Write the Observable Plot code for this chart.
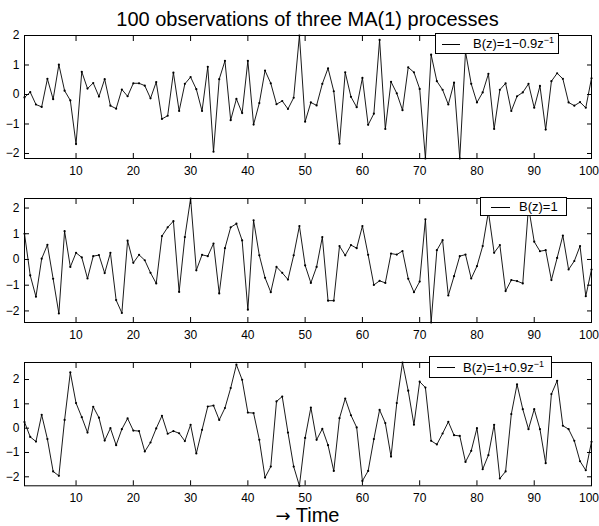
<!DOCTYPE html>
<html><head><meta charset="utf-8">
<script src="https://cdn.jsdelivr.net/npm/d3@7"></script>
<script src="https://cdn.jsdelivr.net/npm/@observablehq/plot@0.6"></script>
<style>
body{margin:0;background:#fff;}
#wrap{position:relative;width:599px;height:526px;overflow:hidden;font-family:"Liberation Sans",Arial,Helvetica,sans-serif;color:#000;background:#fff;}
.title{position:absolute;left:24px;width:567px;text-align:center;font-size:20px;line-height:20px;top:9px;white-space:nowrap;}
.xlab{position:absolute;left:24px;width:567px;text-align:center;font-size:20px;line-height:20px;top:505px;white-space:nowrap;}
.xlab .arr{font-family:"DejaVu Sans",sans-serif;font-size:18px;}
.panel{position:absolute;left:0;}
.legend{position:absolute;border:1px solid #000;background:#fff;box-sizing:border-box;font-size:13px;white-space:nowrap;}
.legend .ln{position:absolute;height:0;border-top:1px solid #000;}
.legend .tx{position:absolute;line-height:13px;}
.legend sup{font-size:9px;vertical-align:0;position:relative;top:-5px;}
</style></head>
<body>
<div id="wrap">
  <div class="title">100 observations of three MA(1) processes</div>
  <div class="xlab"><span class="arr">→</span> Time</div>
</div>
<script>
// time index
const time = d3.range(1, 101);
const xTicks = [10, 20, 30, 40, 50, 60, 70, 80, 90, 100];
const yTicks = [-2, -1, 0, 1, 2];
const legendLabels = ["B(z)=1−0.9z", "B(z)=1", "B(z)=1+0.9z"];
const legendSups = ["−1", "", "−1"];

// B(z) = 1 - 0.9 z^-1
const series1 = [
 -0.10, 0.08,-0.34,-0.42, 0.53,-0.16, 1.01, 0.13,-0.20,-1.68,
  0.77, 0.20, 0.39,-0.07, 0.52,-0.38,-0.48, 0.17,-0.06, 0.38,
  0.38, 0.30,-0.13, 0.42,-0.83,-0.72, 0.74,-0.56, 0.36, 0.59,
  0.18,-0.56, 0.94,-1.94, 0.52, 1.14,-0.87,-0.15,-0.63, 1.14,
 -1.02,-0.29, 0.81, 0.38,-0.33,-0.22,-0.49,-0.11, 2.00,-0.92,
 -0.27,-0.37, 0.36, 0.89, 0.11,-1.67, 0.75,-0.08,-0.43, 0.56,
 -1.03,-0.65, 1.85,-1.17, 0.43, 0.04,-0.53, 0.92, 0.75, 0.19,
 -2.17, 1.35, 0.45, 0.16,-0.34, 0.40,-2.17, 1.45, 0.36,-0.27,
  0.07, 0.70,-1.17, 0.16, 0.38,-0.56,-0.06, 0.07, 0.36,-0.45,
  0.29,-1.19, 0.45, 0.72, 0.53,-0.27,-0.38,-0.26,-0.45, 0.55
];
// B(z) = 1
const series2 = [
  1.00,-0.62,-1.45, 0.03, 0.57,-0.75,-2.10, 1.10,-0.29, 0.26,
  0.08,-0.74, 0.13, 0.17,-0.53, 0.26,-1.58,-2.08, 0.73,-0.13,
  0.18,-0.03,-0.52,-0.93, 0.91, 1.25, 1.49,-1.26, 0.87, 2.37,
 -0.42, 0.18, 0.13, 0.62,-1.32, 0.44, 1.25, 1.39, 0.74,-1.95,
  1.52, 0.16,-0.71,-1.27,-0.29,-0.52,-0.78, 0.16, 1.30,-0.23,
 -0.91,-0.29, 0.87,-1.60,-1.60, 0.52, 0.16, 0.56, 0.44, 1.30,
  0.18,-0.99,-0.83,-0.91, 0.23, 0.19, 0.33,-0.75,-1.27,-0.86,
  1.56,-2.45, 0.36, 0.75,-1.40,-0.65, 0.13, 0.19,-0.74,-0.26,
  0.52, 1.85, 0.26, 0.56,-1.23,-0.80,-0.84,-0.93, 2.05, 0.69,
  0.32, 0.36,-0.80, 0.06, 0.93,-0.39,-0.06, 0.52,-1.43,-0.39
];
// B(z) = 1 + 0.9 z^-1
const series3 = [
  0.25,-0.36,-0.55, 0.55,-0.45,-1.78,-1.96, 0.34, 2.29, 1.03,
  0.45,-0.18, 0.88, 0.43,-0.51, 0.00,-0.70,-0.04, 0.40,-0.10,
 -0.12,-0.96,-0.59,-0.01, 0.51,-0.23,-0.12,-0.21,-0.53, 0.14,
 -1.04,-0.07, 0.89, 0.93, 0.34, 0.83, 1.65, 2.61, 1.99, 0.64,
  0.62,-0.48,-2.03,-1.58, 1.10, 1.30,-0.18,-1.58,-2.37,-0.40,
  0.85,-0.48,-0.03,-0.70,-1.76, 0.41, 1.22, 0.53, 0.03,-2.17,
 -1.76,-0.45, 0.75, 0.21,-1.17, 1.03, 2.70, 1.54, 0.14, 1.91,
  1.67,-0.52,-0.67,-0.22, 0.26,-0.29,-0.32,-1.39,-0.93, 0.00,
 -1.69,-1.11, 0.14,-2.07,-1.78, 0.58, 1.80, 0.78,-0.04, 0.78,
 -0.04,-1.44, 1.40, 1.95, 0.10,-0.04,-0.52,-1.36,-1.73,-0.56
];

const wrap = document.getElementById("wrap");
const fmt = d => (d < 0 ? "−" + Math.abs(d) : String(d));
const lastTick = xTicks[xTicks.length - 1];
const innerTicks = xTicks.slice(0, -1);

const panels = [
  {values: series1, top: 25.3, frameH: 123,
   legend: {left: 435, top: 33, w: 124, h: 21, lnL: 6, lnW: 18, txL: 37}},
  {values: series2, top: 187.7, frameH: 124,
   legend: {left: 480, top: 197, w: 87, h: 19, lnL: 10, lnW: 19, txL: 38}},
  {values: series3, top: 351.7, frameH: 123.3,
   legend: {left: 429, top: 356, w: 123, h: 22, lnL: 7, lnW: 18, txL: 33}}
];

panels.forEach((p, i) => {
  const data = time.map((t, j) => ({t, v: p.values[j]}));
  const mt = 10, mb = 25;
  const chart = Plot.plot({
    width: 599,
    height: mt + p.frameH + mb,
    marginTop: mt,
    marginBottom: mb,
    marginLeft: 24,
    marginRight: 8,
    style: {fontFamily: '"Liberation Sans", Arial, Helvetica, sans-serif', fontSize: "12px", color: "#000", background: "transparent", overflow: "visible"},
    x: {domain: [1, 100], axis: null},
    y: {domain: d3.extent(p.values), axis: null},
    marks: [
      Plot.line(data, {x: "t", y: "v", stroke: "#000", strokeWidth: 0.9, strokeLinejoin: "miter"}),
      Plot.dot(data, {x: "t", y: "v", r: 1.1, fill: "#000"}),
      Plot.frame({stroke: "#000", strokeWidth: 1}),
      Plot.axisX({anchor: "bottom", ticks: xTicks, tickSize: 5, dy: -5, tickFormat: () => "", label: null}),
      Plot.axisX({anchor: "top", ticks: xTicks, tickSize: 5, dy: 5, tickFormat: () => "", label: null}),
      Plot.axisY({anchor: "left", ticks: yTicks, tickSize: 5, dx: 5, tickFormat: () => "", label: null}),
      Plot.axisY({anchor: "right", ticks: yTicks, tickSize: 5, dx: -5, tickFormat: () => "", label: null}),
      Plot.axisX({anchor: "bottom", ticks: innerTicks, tickSize: 0, tickPadding: 8, tickFormat: d => String(d), label: null}),
      Plot.axisX({anchor: "bottom", ticks: [lastTick], tickSize: 0, tickPadding: 8, dx: -2.5, tickFormat: d => String(d), label: null}),
      Plot.axisY({anchor: "left", ticks: yTicks, tickSize: 0, tickPadding: 5, tickFormat: fmt, label: null})
    ]
  });
  const holder = document.createElement("div");
  holder.className = "panel";
  holder.style.top = p.top + "px";
  holder.appendChild(chart);
  wrap.appendChild(holder);

  const L = p.legend;
  const lg = document.createElement("div");
  lg.className = "legend";
  lg.style.left = L.left + "px";
  lg.style.top = L.top + "px";
  lg.style.width = L.w + "px";
  lg.style.height = L.h + "px";
  const ln = document.createElement("span");
  ln.className = "ln";
  ln.style.left = L.lnL + "px";
  ln.style.width = L.lnW + "px";
  ln.style.top = Math.round((L.h - 2) / 2) + "px";
  const tx = document.createElement("span");
  tx.className = "tx";
  tx.style.left = L.txL + "px";
  tx.style.top = Math.round((L.h - 2 - 13) / 2) + "px";
  tx.textContent = legendLabels[i];
  if (legendSups[i]) {
    const sup = document.createElement("sup");
    sup.textContent = legendSups[i];
    tx.appendChild(sup);
  }
  lg.appendChild(ln);
  lg.appendChild(tx);
  wrap.appendChild(lg);
});
</script>
</body></html>
